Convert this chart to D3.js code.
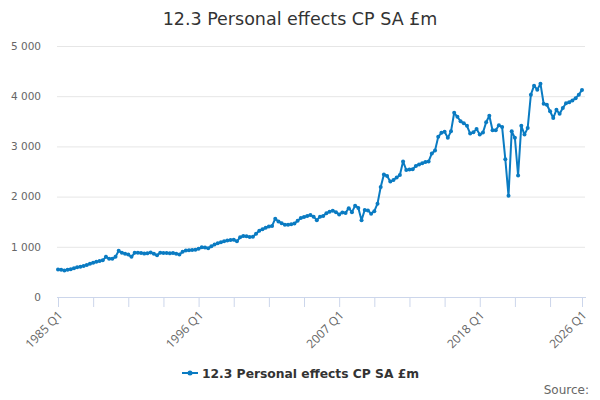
<!DOCTYPE html>
<html><head><meta charset="utf-8">
<script src="https://cdn.jsdelivr.net/npm/d3@7"></script>
<style>body{margin:0;background:#fff}svg{display:block}</style>
</head><body>
<svg id="c" width="600" height="400"></svg>
<script>
const title = "12.3 Personal effects CP SA £m";
const seriesName = "12.3 Personal effects CP SA £m";
const startYear = 1985;
const yTicks = [0, 1000, 2000, 3000, 4000, 5000];
const values = [
 550,545,530,545,555,575,595,605,620,635,660,680,700,715,730,800,760,760,800,920,
 880,860,845,800,880,880,875,865,870,885,860,830,880,875,875,870,875,860,845,900,
 925,930,935,940,960,990,985,970,1010,1045,1070,1090,1110,1125,1135,1140,1110,1190,1215,1210,
 1195,1200,1260,1320,1350,1380,1405,1415,1560,1505,1470,1440,1440,1450,1465,1520,1575,1595,1615,1633,
 1600,1530,1600,1615,1670,1700,1720,1690,1645,1685,1675,1770,1690,1820,1775,1530,1735,1725,1660,1710,
 1860,2190,2440,2410,2300,2330,2380,2430,2700,2530,2540,2545,2610,2640,2665,2690,2700,2860,2920,3190,
 3270,3290,3170,3300,3670,3590,3500,3460,3410,3255,3280,3345,3235,3275,3480,3610,3320,3320,3420,3385,
 2745,2015,3300,3170,2420,3410,3235,3365,4030,4210,4130,4250,3850,3830,3700,3565,3730,3650,3765,3860,
 3880,3915,3960,4030,4125
];
const categories = values.map((v,i)=> (startYear + Math.floor(i/4)) + " Q" + (i%4+1));
const tickIdx = d3.range(0, 155, 11).concat([values.length-1]);
const labelIdx = [0, 44, 88, 132, values.length-1];

(function(){
const svg = d3.select("#c");
const mL = 58, mR = 582, mT = 46, mB = 297;
const x = d3.scalePoint().domain(categories).range([mL, mR]);
const y = d3.scaleLinear().domain([0, 5000]).range([mB, mT]);

svg.append("text").attr("x", 300).attr("y", 25).attr("text-anchor","middle")
  .attr("font-family","DejaVu Sans").attr("font-size",17.5).attr("fill","#333").text(title);

const gy = svg.append("g").attr("transform",`translate(${mL-1},0)`)
  .call(d3.axisLeft(y).tickValues(yTicks).tickSize(-(mR-mL+4)).tickFormat(d=>d3.format(",")(d).replace(/,/g," ")));
gy.select(".domain").remove();
gy.selectAll(".tick line").attr("stroke","#e6e6e6");
gy.selectAll(".tick").filter(d=>d===0).select("line").remove();
gy.selectAll(".tick text").attr("x",-16).attr("font-family","DejaVu Sans").attr("font-size",10.5).attr("fill","#666");

const gx = svg.append("g").attr("transform",`translate(0,${mB})`)
  .call(d3.axisBottom(x).tickValues(tickIdx.map(i=>categories[i])).tickSize(10).tickFormat(d=>labelIdx.map(i=>categories[i]).includes(d)?d:""));
gx.select(".domain").attr("d",`M${mL-1},0.5H${mR+4}`).attr("stroke","#ccd6eb");
gx.selectAll(".tick line").attr("stroke","#ccd6eb");
gx.selectAll(".tick text").attr("font-family","Open Sans").attr("font-size",12).attr("fill","#666")
  .attr("text-anchor","end").attr("x",0).attr("y",0).attr("dy","0.35em").attr("transform","translate(2,16) rotate(-45)");

const line = d3.line().x((d,i)=>x(categories[i])).y(d=>y(d));
svg.append("path").datum(values).attr("d",line).attr("fill","none").attr("stroke","#0a7bc2").attr("stroke-width",2).attr("stroke-linejoin","round");
svg.append("g").selectAll("circle").data(values).join("circle")
  .attr("cx",(d,i)=>x(categories[i])).attr("cy",d=>y(d)).attr("r",2).attr("fill","#0a7bc2");

const lg = svg.append("g").attr("transform","translate(182,373)");
lg.append("line").attr("x1",0).attr("x2",16).attr("y1",0).attr("y2",0).attr("stroke","#0a7bc2").attr("stroke-width",2);
lg.append("circle").attr("cx",8).attr("cy",0).attr("r",2.5).attr("fill","#0a7bc2");
lg.append("text").attr("x",20).attr("y",5).attr("font-family","DejaVu Sans").attr("font-weight","bold").attr("font-size",12.3).attr("fill","#333").text(seriesName);

svg.append("text").attr("x",589).attr("y",394).attr("text-anchor","end").attr("font-family","DejaVu Sans").attr("font-size",12).attr("fill","#666").text("Source:");
})();
</script>
</body></html>
